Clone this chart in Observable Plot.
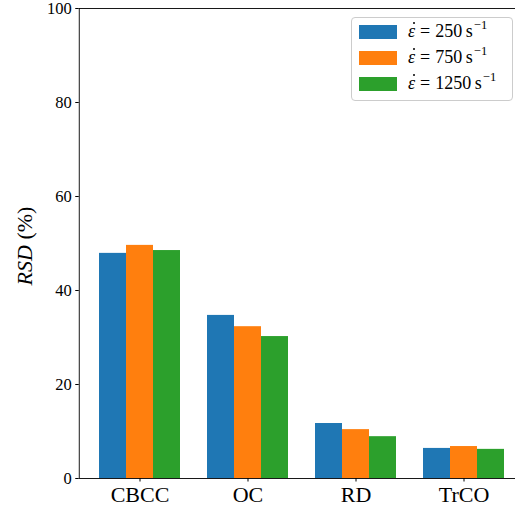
<!DOCTYPE html>
<html>
<head>
<meta charset="utf-8">
<script src="https://cdn.jsdelivr.net/npm/d3@7"></script>
<script src="https://cdn.jsdelivr.net/npm/@observablehq/plot@0.6"></script>
<style>
  html, body { margin: 0; padding: 0; background: #fff; overflow: hidden; }
  #wrap { position: relative; width: 515px; height: 508px; overflow: hidden; font-family: "Liberation Serif", "DejaVu Serif", serif; }
  #wrap svg { max-width: none !important; display: block; }
  #legend { position: absolute; left: 351px; top: 17px; width: 162px; height: 84px; box-sizing: border-box;
    border: 1px solid #cccccc; border-radius: 4px; background: rgba(255,255,255,0.8); }
  .row { position: absolute; left: 7px; height: 14px; }
  .sw { position: absolute; left: 0; top: 0; width: 38px; height: 14px; }
  .lab { position: absolute; left: 49px; top: -5px; white-space: nowrap; font-size: 18px; color: #000; line-height: 22px; }
  .eps { position: relative; font-style: italic; display: inline-block; }
  .eps .dot { position: absolute; left: 4.5px; top: 2px; width: 2.4px; height: 2.4px; border-radius: 50%; background: #000; }
  .eq { display: inline-block; margin: 0 5px 0 5px; }
  .lab sup { font-size: 12.5px; vertical-align: 0; position: relative; top: -8px; margin-left: 1px; }
</style>
</head>
<body>
<div id="wrap"></div>
<script>
const categories = ["CBCC", "OC", "RD", "TrCO"];
const rates = ["250", "750", "1250"];
const rsd250 = [47.9, 34.7, 11.7, 6.4];
const rsd750 = [49.6, 32.3, 10.4, 6.8];
const rsd1250 = [48.5, 30.2, 8.9, 6.2];
const colors = ["#1f77b4", "#ff7f0e", "#2ca02c"];
const yTicks = [0, 20, 40, 60, 80, 100];

const seriesValues = [rsd250, rsd750, rsd1250];
const barWidth = 0.25;
const data = [];
seriesValues.forEach((vals, j) => {
  vals.forEach((v, i) => {
    const c = i + (j - 1) * barWidth;
    data.push({cat: categories[i], rate: rates[j], x1: c - barWidth / 2, x2: c + barWidth / 2, value: v});
  });
});
const span = categories.length - 1 + 3 * barWidth;
const xMin = -1.5 * barWidth - 0.05 * span;
const xMax = categories.length - 1 + 1.5 * barWidth + 0.05 * span;

const chart = Plot.plot({
  width: 525,
  height: 508,
  marginLeft: 78.75,
  marginRight: 0.75,
  marginTop: 8,
  marginBottom: 30,
  style: {fontFamily: "'Liberation Serif', 'DejaVu Serif', serif", color: "#000", background: "transparent", maxWidth: "none"},
  x: {type: "linear", domain: [xMin, xMax]},
  y: {domain: [0, 100]},
  color: {domain: rates, range: colors},
  marks: [
    Plot.rectY(data, {x1: "x1", x2: "x2", y1: 0, y2: "value", fill: "rate"}),
    Plot.frame({stroke: "#000", strokeWidth: 0.9}),
    Plot.axisY({ticks: yTicks, tickSize: 3.5, tickPadding: 4, fontSize: 16.5, label: null, tickFormat: d => String(d)}),
    Plot.axisX({ticks: d3.range(categories.length), tickSize: 3.5, tickPadding: 4, fontSize: 22, label: null, tickFormat: i => categories[i]})
  ]
});

const wrap = document.getElementById("wrap");
wrap.appendChild(chart);

// y-axis label
const svg = d3.select(chart);
const t = svg.append("text")
  .attr("transform", "translate(32,246) rotate(-90)")
  .attr("text-anchor", "middle")
  .attr("font-size", 22)
  .attr("fill", "#000")
  .attr("font-family", "'Liberation Serif', 'DejaVu Serif', serif");
t.append("tspan").attr("font-style", "italic").text("RSD");
t.append("tspan").text(" (%)");

// legend
const legend = document.createElement("div");
legend.id = "legend";
rates.forEach((r, j) => {
  const row = document.createElement("div");
  row.className = "row";
  row.style.top = (7 + j * 26) + "px";
  row.innerHTML = `<div class="sw" style="background:${colors[j]}"></div><div class="lab"><span class="eps">ε<span class="dot"></span></span><span class="eq">=</span>${r}&#8201;s<sup>−1</sup></div>`;
  legend.appendChild(row);
});
wrap.appendChild(legend);
</script>
</body>
</html>
